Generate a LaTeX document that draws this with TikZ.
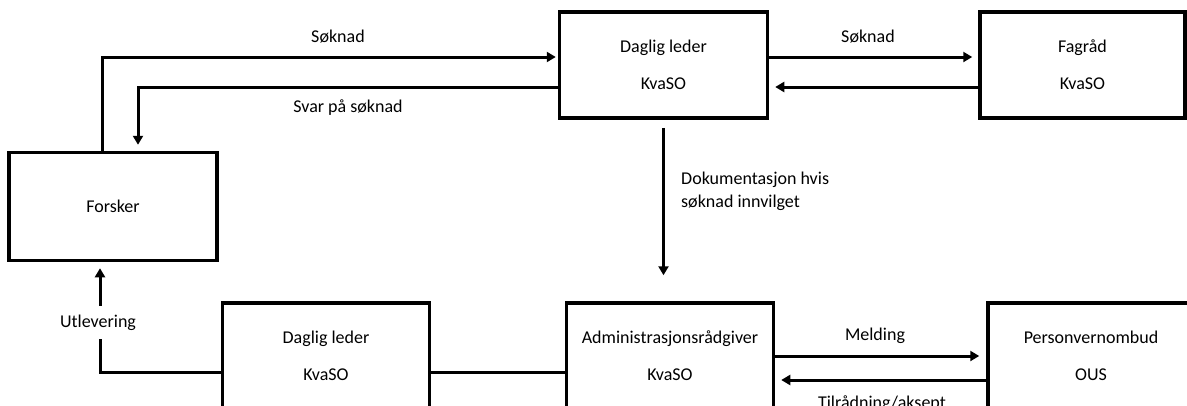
\documentclass[tikz,border=0pt]{standalone}
\usepackage{fontspec}
\setmainfont{Carlito}
\usetikzlibrary{arrows.meta}
\begin{document}
\begin{tikzpicture}[x=1pt,y=-1pt,
  box/.style={draw=black,line width=3.5pt,minimum width=207pt,minimum height=106pt,
    inner sep=0pt,align=center,font=\fontsize{18}{37}\selectfont},
  lab/.style={inner sep=0pt,font=\fontsize{18}{23}\selectfont},
  conn/.style={line width=3pt},
  arr/.style={conn,-{Triangle[length=9pt,width=10pt]}}]
\path[use as bounding box] (0,0) rectangle (1187,405);
\clip (0,0) rectangle (1187,405);
% boxes
\node[box,minimum width=208pt,minimum height=108pt] (forsker) at (113,206.5) {Forsker};
\node[box,minimum width=208pt] (dl1) at (663.5,65) {Daglig leder\\KvaSO};
\node[box,minimum width=205pt] (fag) at (1082.5,65) {Fagråd\\KvaSO};
\node[box,minimum width=207pt] (dl2) at (326,356) {Daglig leder\\KvaSO};
\node[box,minimum width=207pt] (adm) at (670,356) {Administrasjonsrådgiver\\KvaSO};
\node[box,minimum width=206pt] (pvo) at (1091,356) {Personvernombud\\OUS};
% labels
\node[lab] (l1) at (338,37) {Søknad};
\node[lab] (l2) at (348,108) {Svar på søknad};
\node[lab] (l3) at (868,37) {Søknad};
\node[lab,align=left,anchor=west] (l4) at (681,191.5) {Dokumentasjon hvis\\søknad innvilget};
\node[lab,minimum height=33pt] (utl) at (100,322.5) {\hspace*{-4pt}Utlevering};
\node[lab] (l5) at (875,336) {Melding};
\node[lab] (l6) at (882,404) {Tilrådning/aksept};
% connectors
\draw[arr,shorten >=2pt] ([xshift=-10.5pt]forsker.north) |- ([yshift=8pt]dl1.west);
\draw[arr,shorten >=6pt] ([yshift=-22pt]dl1.west) -| ([xshift=25pt]forsker.north);
\draw[arr,shorten >=6pt] ([yshift=8pt]dl1.east) -- ([yshift=8pt]fag.west);
\draw[arr,shorten >=6pt] ([yshift=-22pt]fag.west) -- ([yshift=-22pt]dl1.east);
\draw[arr,shorten <=8pt,shorten >=26pt] (dl1.south) -- (dl1.south |- adm.north);
\draw[conn] ([yshift=-16pt]dl2.west) -| (utl.south);
\draw[arr,shorten >=6pt] (utl.north) -- (utl.north |- forsker.south);
\draw[conn] ([yshift=-16pt]dl2.east) -- ([yshift=-16pt]adm.west);
\draw[arr,shorten >=7pt] (adm.east) -- (adm.east -| pvo.west);
\draw[arr,shorten >=6pt] ([yshift=-24pt]pvo.west) -- ([yshift=-24pt]adm.east);
\end{tikzpicture}
\end{document}
